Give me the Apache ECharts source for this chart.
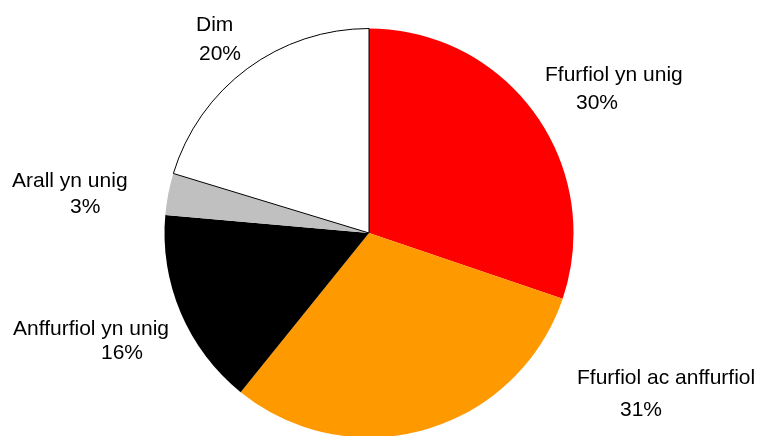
<!DOCTYPE html>
<html>
<head>
<meta charset="utf-8">
<script src="https://cdn.jsdelivr.net/npm/echarts@6/dist/echarts.min.js"></script>
<style>
html,body{margin:0;padding:0;background:#fff;}
#c{width:761px;height:436px;}
</style>
</head>
<body>
<div id="c"></div>
<script>
// Data
const categories = ['Ffurfiol yn unig', 'Ffurfiol ac anffurfiol', 'Anffurfiol yn unig', 'Arall yn unig', 'Dim'];
const shares = [30.2, 30.6, 15.6, 3.3, 20.3];

// Styling / layout (not data)
const sliceColors = ['#FF0000', '#FF9900', '#000000', '#C0C0C0', '#FFFFFF'];
const labelSpots = [
  { x: 545, y: 63, pad: 31, lh: 32 },
  { x: 577, y: 366, pad: 43, lh: 40 },
  { x: 13, y: 317, pad: 88, lh: 24 },
  { x: 12, y: 169, pad: 58, lh: 29 },
  { x: 196, y: 13, pad: 3, lh: 34 }
];
const FONT = 'Liberation Sans, Arial, sans-serif';

const seriesData = categories.map((name, i) => ({
  name: name,
  value: shares[i],
  itemStyle: {
    color: sliceColors[i],
    borderColor: name === 'Dim' ? '#000000' : sliceColors[i],
    borderWidth: name === 'Dim' ? 1 : 0
  },
  label: {
    rich: {
      n: { fontFamily: FONT, fontSize: 21, color: '#000', lineHeight: 24 },
      p: { fontFamily: FONT, fontSize: 21, color: '#000', lineHeight: labelSpots[i].lh, padding: [0, 0, 0, labelSpots[i].pad] }
    }
  }
}));

const chart = echarts.init(document.getElementById('c'), null, { renderer: 'canvas' });
chart.setOption({
  animation: false,
  backgroundColor: '#ffffff',
  series: [{
    type: 'pie',
    center: [369, 233],
    radius: 204.5,
    startAngle: 90,
    clockwise: true,
    percentPrecision: 0,
    silent: true,
    emphasis: { disabled: true },
    label: {
      show: true,
      position: 'outside',
      alignTo: 'none',
      overflow: 'none',
      fontFamily: FONT,
      fontSize: 21,
      formatter: '{n|{b}}\n{p|{d}%}'
    },
    labelLine: { show: false },
    labelLayout: function (params) {
      const s = labelSpots[params.dataIndex];
      return { x: s.x, y: s.y, align: 'left', verticalAlign: 'top', hideOverlap: false, moveOverlap: null };
    },
    data: seriesData
  }]
});
</script>
</body>
</html>
